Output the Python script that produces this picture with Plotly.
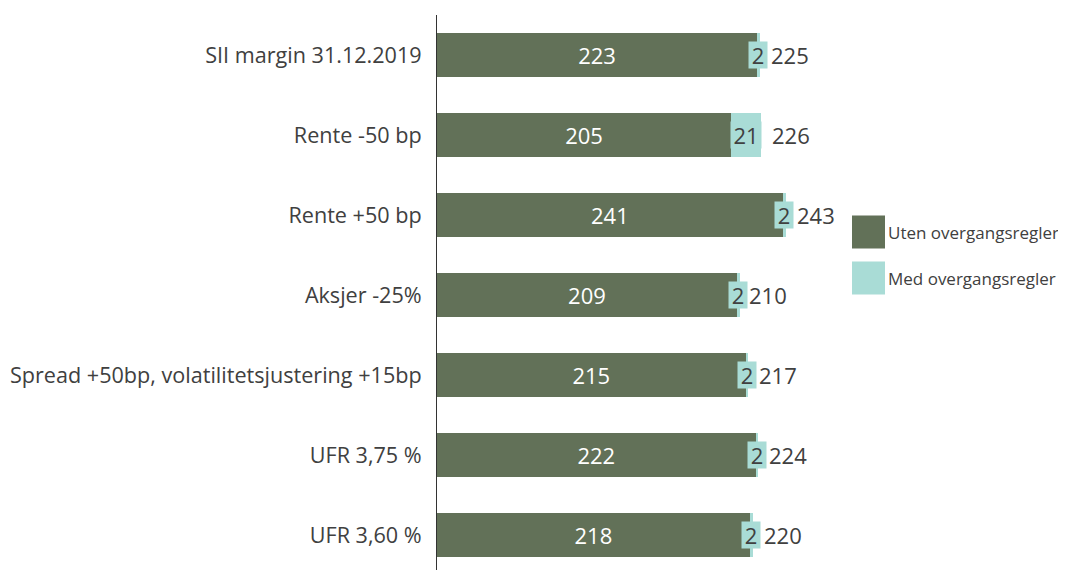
import plotly.graph_objects as go

categories = ["SII margin 31.12.2019", "Rente -50 bp", "Rente +50 bp", "Aksjer -25%",
              "Spread +50bp, volatilitetsjustering +15bp", "UFR 3,75 %", "UFR 3,60 %"]
uten = [223, 205, 241, 209, 215, 222, 218]
med = [2, 21, 2, 2, 2, 2, 2]
totals = [225, 226, 243, 210, 217, 224, 220]
series_names = ["Uten overgangsregler", "Med overgangsregler"]

DARK = "#627158"
LIGHT = "#a9dcd6"
TXT = "#404040"
FONT = "Open Sans"

L, R, T, B = 429, 226, 7, 0
PW = 1066 - L - R
PH = 570 - T - B
OFF = 8  # page offset

fig = go.Figure()
fig.add_trace(go.Bar(
    y=categories, x=uten, orientation="h", name=series_names[0],
    marker=dict(color=DARK, line=dict(width=0)), width=0.55,
    text=[str(v) for v in uten], textposition="inside", insidetextanchor="middle",
    textfont=dict(color="white", size=22, family=FONT), showlegend=False,
    hoverinfo="skip"))
fig.add_trace(go.Bar(
    y=categories, x=med, orientation="h", name=series_names[1],
    marker=dict(color=LIGHT, line=dict(width=0)), width=0.55,
    showlegend=False, hoverinfo="skip"))

for c, u, m, t in zip(categories, uten, med, totals):
    fig.add_annotation(x=u + m / 2, y=c, xref="x", yref="y", text=str(m),
                       showarrow=False, bgcolor=LIGHT, borderpad=0,
                       width=6 + 12 * len(str(m)), height=26,
                       font=dict(color=TXT, size=22, family=FONT))
    fig.add_annotation(x=t, y=c, xref="x", yref="y", text=str(t), xanchor="left",
                       xshift=9, showarrow=False,
                       font=dict(color=TXT, size=22, family=FONT))

# custom legend (image pixel targets converted to paper coords)
def px(X):
    return (X - OFF - L) / PW

def py(Y):
    return 1 - (Y - OFF - T) / PH

leg_y = [232, 278]
for name, col, yc in zip(series_names, [DARK, LIGHT], leg_y):
    fig.add_shape(type="rect", xref="paper", yref="paper",
                  x0=px(852), x1=px(885), y0=py(yc - 16.5), y1=py(yc + 16.5),
                  fillcolor=col, line=dict(width=0))
    fig.add_annotation(xref="paper", yref="paper", x=px(886), y=py(yc),
                       xanchor="left", yanchor="middle", text=name, showarrow=False,
                       font=dict(color=TXT, size=17, family=FONT))

fig.update_layout(
    width=1066, height=570, barmode="stack",
    margin=dict(l=L, r=R, t=T, b=B),
    paper_bgcolor="white", plot_bgcolor="white",
    font=dict(family=FONT, color=TXT),
    xaxis=dict(range=[0, PW / 1.435], visible=False, fixedrange=True),
    yaxis=dict(categoryorder="array", categoryarray=categories, automargin=False,
               range=[PH / 80 - 0.5, -0.5], showline=True, linecolor="#333333", linewidth=1,
               showgrid=False, zeroline=False, ticklabelstandoff=10,
               tickfont=dict(size=21.6, family=FONT, color=TXT)),
)

fig.write_html("out.html")
